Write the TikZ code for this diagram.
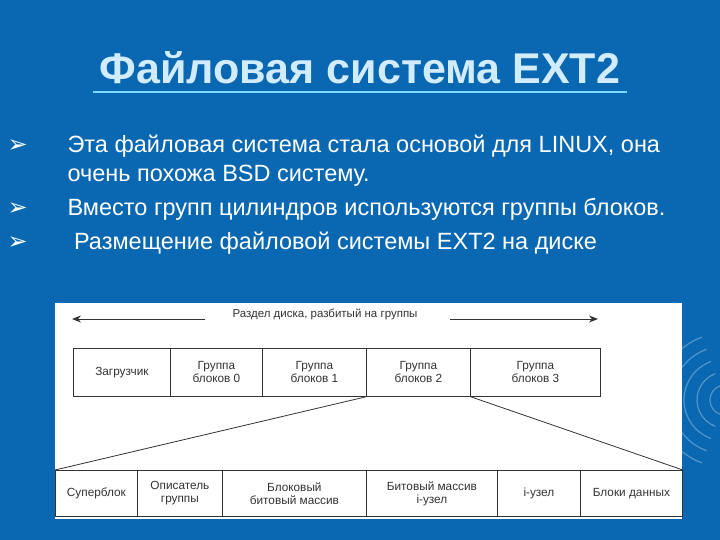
\documentclass[tikz,border=0pt]{standalone}
\usepackage{fontspec}
\setmainfont{Liberation Sans}
\newfontfamily\dv{DejaVu Sans}
\usetikzlibrary{arrows.meta}
\definecolor{bg}{HTML}{0A68B2}
\definecolor{ttl}{HTML}{D2ECFF}
\definecolor{ul}{HTML}{7FD6FF}
\definecolor{ink}{HTML}{333333}
\tikzset{
  cell/.style={draw=ink,line width=0.8pt,minimum height=#1,inner sep=0pt,align=center,font=\fontsize{11.8}{13}\selectfont,text=ink,anchor=north west},
  bul/.style={anchor=west,text=white,font=\fontsize{23.5}{27}\selectfont},
  bmark/.style={anchor=west,text=white,font=\dv\fontsize{24}{24}\selectfont}
}
\begin{document}
\begin{tikzpicture}[x=1pt,y=-1pt]
\fill[bg] (0,0) rectangle (720,540);
\useasboundingbox (0,0) rectangle (720,540);
\foreach \r in {15,28,41,54,67}{\draw[white!30!bg,line width=1.2pt] (725,400) ++(110:\r) arc (110:250:\r);}
\node (title) at (360,68) {\bfseries\fontsize{43}{46}\selectfont\color{ttl}Файловая система EXT2};
\draw[ul,line width=2.5pt] (93,92) -- (627,92);
\node[bmark] (m1) at (4,146) {➢};
\node[bmark] (m2) at (4,209) {➢};
\node[bmark] (m3) at (4,243) {➢};
\node[bul] (b1) at (64,146) {Эта файловая система стала основой для LINUX, она};
\node[bul] (b1b) at (64,176) {очень похожа BSD систему.};
\node[bul] (b2) at (64,209) {Вместо групп цилиндров используются группы блоков.};
\node[bul] (b3) at (64,243) {\ Размещение файловой системы EXT2 на диске};
\fill[white] (55,303) rectangle (682,519);
\node[text=ink,font=\fontsize{11.5}{13}\selectfont] (hdr) at (325,314) {Раздел диска, разбитый на группы};
\coordinate (al) at (72,319); \coordinate (alx) at (205,319);
\coordinate (ar) at (598,319); \coordinate (arx) at (450,319);
\draw[ink,line width=1pt,-{Stealth[length=9pt,width=7pt]}] (alx) -- (al);
\draw[ink,line width=1pt,-{Stealth[length=9pt,width=7pt]}] (arx) -- (ar);
\node[cell=48pt,minimum width=97pt] (t0) at (73,348) {Загрузчик};
\node[cell=48pt,minimum width=92pt] (t1) at (170,348) {Группа\\блоков 0};
\node[cell=48pt,minimum width=104pt] (t2) at (262,348) {Группа\\блоков 1};
\node[cell=48pt,minimum width=104pt] (t3) at (366,348) {Группа\\блоков 2};
\node[cell=48pt,minimum width=130pt] (t4) at (470,348) {Группа\\блоков 3};
\node[cell=46pt,minimum width=82pt] (s0) at (55,470) {Суперблок};
\node[cell=46pt,minimum width=85pt] (s1) at (137,470) {Описатель\\группы};
\node[cell=46pt,minimum width=144pt] (s2) at (222,470) {Блоковый\\битовый массив};
\node[cell=46pt,minimum width=131pt] (s3) at (366,470) {Битовый массив\\i-узел};
\node[cell=46pt,minimum width=83pt] (s4) at (497,470) {i-узел};
\node[cell=46pt,minimum width=102pt] (s5) at (580,470) {Блоки данных};
\draw[ink,line width=0.8pt] (t3.south west) -- (s0.north west);
\draw[ink,line width=0.8pt] (t3.south east) -- (s5.north east);
\end{tikzpicture}
\end{document}
